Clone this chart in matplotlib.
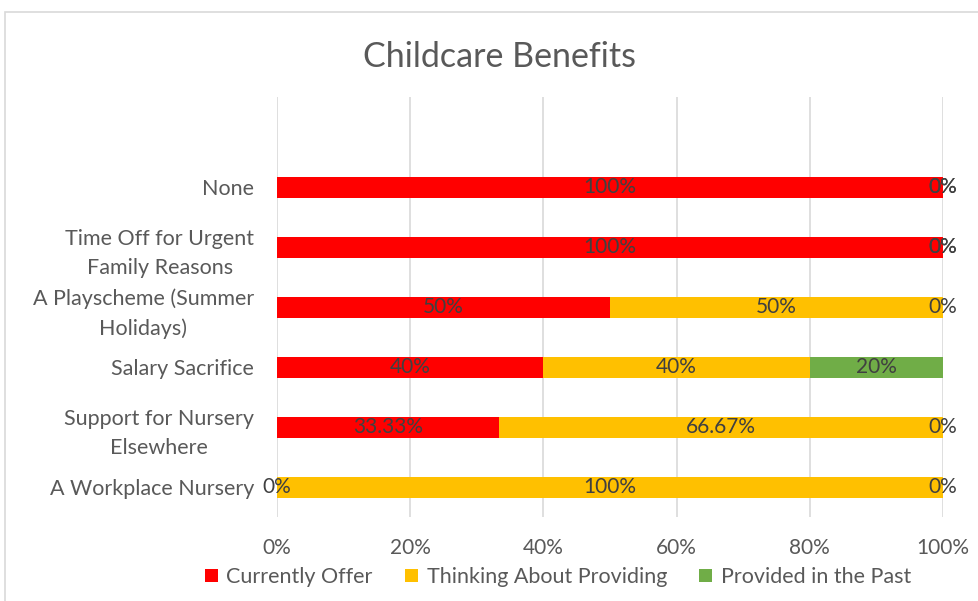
import matplotlib.pyplot as plt
from matplotlib.patches import Rectangle
import numpy as np

plt.rcParams['font.family'] = ['Lato', 'DejaVu Sans']

categories = ['A Workplace Nursery', 'Support for Nursery\nElsewhere', 'Salary Sacrifice',
              'A Playscheme (Summer\nHolidays)', 'Time Off for Urgent\nFamily Reasons', 'None']
currently = [0, 33.33, 40, 50, 100, 100]
thinking = [100, 66.67, 40, 50, 0, 0]
past = [0, 0, 20, 0, 0, 0]
series = ['Currently Offer', 'Thinking About Providing', 'Provided in the Past']
colors = ['#FF0000', '#FFC000', '#70AD47']

fig = plt.figure(figsize=(9.79, 6.01), dpi=100)
# chart frame
fig.patches.append(Rectangle((5 / 979, -0.1), 1.2, 1 - 12 / 601 + 0.1, transform=fig.transFigure,
                             fill=False, edgecolor='#d9d9d9', linewidth=1.2))

ax = fig.add_axes([277 / 979, 1 - 517 / 601, (943 - 277) / 979, (517 - 97) / 601])
y = np.arange(len(categories))
left = np.zeros(len(categories))
for vals, name, col in zip([currently, thinking, past], series, colors):
    vals = np.array(vals)
    ax.barh(y, vals, left=left, height=0.35, color=col, label=name, zorder=2)
    for yi, l, v in zip(y, left, vals):
        txt = f'{v:g}%'
        ax.text(l + v / 2, yi, txt, ha='center', va='center', fontsize=15, color='#404040', zorder=3)
    left = left + vals

ax.set_xlim(0, 100)
ax.set_ylim(-0.5, 6.5)
ax.set_xticks(np.arange(0, 101, 20))
ax.set_xticklabels([f'{t}%' for t in range(0, 101, 20)])
ax.set_yticks(y)
ax.set_yticklabels(categories, multialignment='center', linespacing=1.55)
ax.tick_params(axis='both', length=0, labelsize=15, labelcolor='#595959')
ax.tick_params(axis='y', pad=16.5, labelsize=15.5)
ax.tick_params(axis='x', pad=15)
ax.grid(axis='x', color='#d9d9d9', linewidth=1.2, zorder=0)
for s in ax.spines.values():
    s.set_visible(False)

fig.text(500 / 979, 1 - 57 / 601, 'Childcare Benefits', ha='center', va='center', fontsize=24.5, color='#595959')

ax.legend(loc='center', bbox_to_anchor=(558 / 979, 1 - 577 / 601), bbox_transform=fig.transFigure,
          ncol=3, frameon=False, fontsize=15.5, labelcolor='#595959', handlelength=0.6, handleheight=0.6,
          handletextpad=0.4, columnspacing=1.5)

fig.savefig('out.png', dpi=100)
